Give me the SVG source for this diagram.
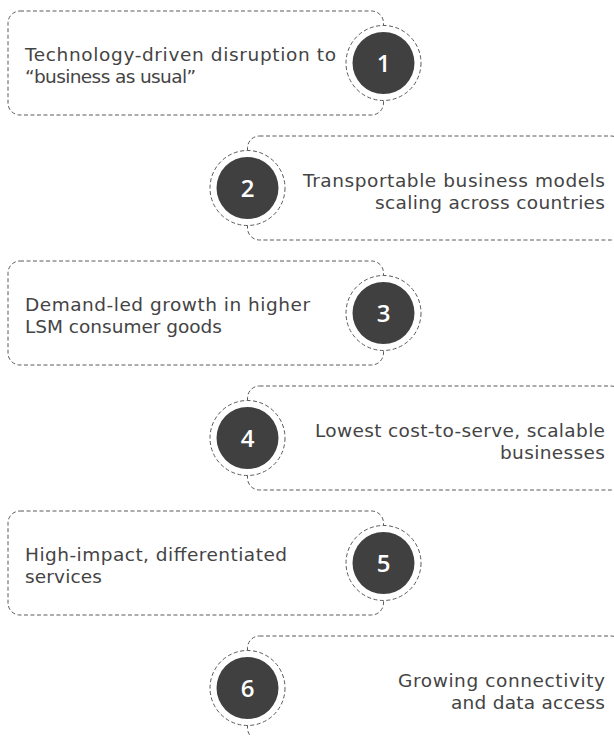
<svg xmlns="http://www.w3.org/2000/svg" width="614" height="736" viewBox="0 0 614 736">
  <style>
    .card { fill: #ffffff; stroke: #5a5a5a; stroke-width: 1; stroke-dasharray: 4 2.5; }
    .ring { fill: #ffffff; stroke: #5a5a5a; stroke-width: 1; stroke-dasharray: 4 2.5; }
    .disc { fill: #404040; }
    .num { font-family: "Open Sans", Lato, sans-serif; font-size: 24px; font-weight: 600; fill: #ffffff; text-anchor: middle; }
    .label { font-family: "DejaVu Sans", "Open Sans", sans-serif; font-size: 18.5px; fill: #444444; }
    .left { text-anchor: start; }
    .right { text-anchor: end; }
  </style>
  <rect width="614" height="736" fill="#ffffff"/>

  <g id="node-1">
    <rect class="card" x="8" y="11" width="375.5" height="104" rx="12"/>
    <circle class="ring" cx="383.5" cy="63" r="37.5"/>
    <circle class="disc" cx="383.5" cy="63" r="31"/>
    <text class="num" x="383.5" y="72">1</text>
    <text class="label left" x="25" y="61" textLength="311" lengthAdjust="spacing">Technology-driven disruption to</text>
    <text class="label left" x="25" y="83" textLength="171" lengthAdjust="spacing">“business as usual”</text>
  </g>

  <g id="node-2">
    <rect class="card" x="247.5" y="136" width="375.5" height="104" rx="12"/>
    <circle class="ring" cx="247.5" cy="188" r="37.5"/>
    <circle class="disc" cx="247.5" cy="188" r="31"/>
    <text class="num" x="247.5" y="197">2</text>
    <text class="label right" x="605" y="187" textLength="302" lengthAdjust="spacing">Transportable business models</text>
    <text class="label right" x="605" y="209" textLength="230" lengthAdjust="spacing">scaling across countries</text>
  </g>

  <g id="node-3">
    <rect class="card" x="8" y="261" width="375.5" height="104" rx="12"/>
    <circle class="ring" cx="383.5" cy="313" r="37.5"/>
    <circle class="disc" cx="383.5" cy="313" r="31"/>
    <text class="num" x="383.5" y="322">3</text>
    <text class="label left" x="25" y="311" textLength="285" lengthAdjust="spacing">Demand-led growth in higher</text>
    <text class="label left" x="25" y="333" textLength="197" lengthAdjust="spacing">LSM consumer goods</text>
  </g>

  <g id="node-4">
    <rect class="card" x="247.5" y="386" width="375.5" height="104" rx="12"/>
    <circle class="ring" cx="247.5" cy="438" r="37.5"/>
    <circle class="disc" cx="247.5" cy="438" r="31"/>
    <text class="num" x="247.5" y="447">4</text>
    <text class="label right" x="605" y="437" textLength="290" lengthAdjust="spacing">Lowest cost-to-serve, scalable</text>
    <text class="label right" x="605" y="459" textLength="105" lengthAdjust="spacing">businesses</text>
  </g>

  <g id="node-5">
    <rect class="card" x="8" y="511" width="375.5" height="104" rx="12"/>
    <circle class="ring" cx="383.5" cy="563" r="37.5"/>
    <circle class="disc" cx="383.5" cy="563" r="31"/>
    <text class="num" x="383.5" y="572">5</text>
    <text class="label left" x="25" y="561" textLength="262" lengthAdjust="spacing">High-impact, differentiated</text>
    <text class="label left" x="25" y="583" textLength="77" lengthAdjust="spacing">services</text>
  </g>

  <g id="node-6">
    <rect class="card" x="247.5" y="636" width="375.5" height="104" rx="12"/>
    <circle class="ring" cx="247.5" cy="688" r="37.5"/>
    <circle class="disc" cx="247.5" cy="688" r="31"/>
    <text class="num" x="247.5" y="697">6</text>
    <text class="label right" x="605" y="687" textLength="207" lengthAdjust="spacing">Growing connectivity</text>
    <text class="label right" x="605" y="709" textLength="154" lengthAdjust="spacing">and data access</text>
  </g>
</svg>
